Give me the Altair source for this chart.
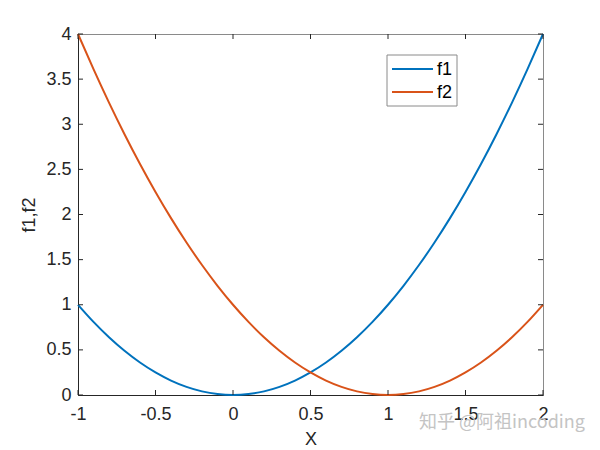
import altair as alt
import pandas as pd

x_vals = [-1.0, -0.9, -0.8, -0.7, -0.6, -0.5, -0.4, -0.3, -0.2, -0.1, 0.0,
          0.1, 0.2, 0.3, 0.4, 0.5, 0.6, 0.7, 0.8, 0.9, 1.0,
          1.1, 1.2, 1.3, 1.4, 1.5, 1.6, 1.7, 1.8, 1.9, 2.0]
f1_vals = [1.00, 0.81, 0.64, 0.49, 0.36, 0.25, 0.16, 0.09, 0.04, 0.01, 0.00,
           0.01, 0.04, 0.09, 0.16, 0.25, 0.36, 0.49, 0.64, 0.81, 1.00,
           1.21, 1.44, 1.69, 1.96, 2.25, 2.56, 2.89, 3.24, 3.61, 4.00]
f2_vals = [4.00, 3.61, 3.24, 2.89, 2.56, 2.25, 1.96, 1.69, 1.44, 1.21, 1.00,
           0.81, 0.64, 0.49, 0.36, 0.25, 0.16, 0.09, 0.04, 0.01, 0.00,
           0.01, 0.04, 0.09, 0.16, 0.25, 0.36, 0.49, 0.64, 0.81, 1.00]
series_names = ["f1", "f2"]
series_colors = ["#0072BD", "#D95319"]
x_ticks = [-1, -0.5, 0, 0.5, 1, 1.5, 2]
y_ticks = [0, 0.5, 1, 1.5, 2, 2.5, 3, 3.5, 4]
x_title = "X"
y_title = "f1,f2"
watermark = "知乎 @阿祖incoding"

W, H = 465, 361
FONT = "Liberation Sans"

rows = []
for name, vals in zip(series_names, [f1_vals, f2_vals]):
    for xv, yv in zip(x_vals, vals):
        rows.append({"x": xv, "y": yv, "series": name})
df = pd.DataFrame(rows)

xscale = alt.Scale(domain=[-1, 2], nice=False, zero=False)
yscale = alt.Scale(domain=[0, 4], nice=False, zero=False)
label_expr = "datum.value < 0 ? '-' + format(-datum.value, '~g') : format(datum.value, '~g')"

lines = alt.Chart(df).mark_line(strokeWidth=2, interpolate="natural").encode(
    x=alt.X("x:Q", scale=xscale, title=x_title,
            axis=alt.Axis(values=x_ticks, labelExpr=label_expr, ticks=False,
                          labelFlush=False, labelOverlap=False, grid=False,
                          labelPadding=10, titlePadding=7)),
    y=alt.Y("y:Q", scale=yscale, title=y_title,
            axis=alt.Axis(values=y_ticks, labelExpr=label_expr, ticks=False,
                          labelOverlap=False, grid=False, labelPadding=7,
                          titlePadding=7)),
    color=alt.Color("series:N",
                    scale=alt.Scale(domain=series_names, range=series_colors),
                    legend=None),
)

xt = pd.DataFrame({"x": x_ticks})
yt = pd.DataFrame({"y": y_ticks})
tick_color = "#262626"
xb = alt.Chart(xt).mark_rule(color=tick_color).encode(
    x=alt.X("x:Q", scale=xscale, title=x_title), y=alt.value(H), y2=alt.value(H - 5))
xtop = alt.Chart(xt).mark_rule(color=tick_color).encode(
    x=alt.X("x:Q", scale=xscale, title=x_title), y=alt.value(0), y2=alt.value(5))
yl = alt.Chart(yt).mark_rule(color=tick_color).encode(
    y=alt.Y("y:Q", scale=yscale, title=y_title), x=alt.value(0), x2=alt.value(5))
yr = alt.Chart(yt).mark_rule(color=tick_color).encode(
    y=alt.Y("y:Q", scale=yscale, title=y_title), x=alt.value(W), x2=alt.value(W - 5))

# legend (drawn manually, MATLAB style)
one = pd.DataFrame({"t": [""]})
legend_layers = [
    alt.Chart(one).mark_rect(fill="white", stroke="#8a8a8a", strokeWidth=1).encode(
        x=alt.value(309), x2=alt.value(379), y=alt.value(21), y2=alt.value(72))
]
for i, (name, col) in enumerate(zip(series_names, series_colors)):
    yy = 35 + 23 * i
    legend_layers.append(
        alt.Chart(one).mark_rule(color=col, strokeWidth=2).encode(
            x=alt.value(314), x2=alt.value(355), y=alt.value(yy)))
    legend_layers.append(
        alt.Chart(pd.DataFrame({"t": [name]})).mark_text(
            align="left", baseline="middle", fontSize=18, font=FONT,
            color="#000000").encode(text="t:N", x=alt.value(359), y=alt.value(yy + 1)))

wm = alt.Chart(pd.DataFrame({"t": [watermark]})).mark_text(
    align="left", baseline="middle", fontSize=18, font="Noto Sans CJK SC",
    color="#c4c4c4").encode(text="t:N", x=alt.value(341), y=alt.value(389))

chart = alt.layer(lines, xb, xtop, yl, yr, *legend_layers, wm).properties(
    width=W, height=H,
    autosize=alt.AutoSizeParams(type="none"),
    padding={"left": 70, "top": 26, "right": 49, "bottom": 52},
).configure_view(stroke="#8a8a8a", strokeWidth=1).configure_axis(
    labelFont=FONT, labelFontSize=18, labelColor="#262626",
    titleFont=FONT, titleFontSize=18, titleFontWeight="normal", titleColor="#262626",
    domainColor="#262626", domainWidth=1,
)

chart.save("out.html", embed_options={"renderer": "svg", "actions": False})
